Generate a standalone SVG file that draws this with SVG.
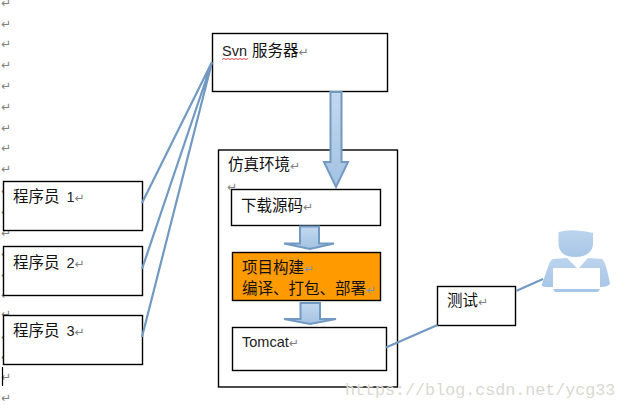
<svg xmlns="http://www.w3.org/2000/svg" width="626" height="409" viewBox="0 0 626 409">
<defs>
<linearGradient id="ag" x1="0" y1="0" x2="0" y2="1"><stop offset="0" stop-color="#c3d8ef"/><stop offset="1" stop-color="#a3c2e2"/></linearGradient>
<linearGradient id="pg" x1="0" y1="0" x2="0" y2="1"><stop offset="0" stop-color="#bcd4ee"/><stop offset="1" stop-color="#a8c6e6"/></linearGradient>
</defs>
<style>
.box{fill:#fff;stroke:#000;stroke-width:1.4}
.t{font-family:"Noto Sans CJK SC","Liberation Sans",sans-serif;font-size:15.5px;fill:#111}
.l{font-family:"Liberation Sans",sans-serif;font-size:14.5px;fill:#222}
.m{font-family:"DejaVu Sans",sans-serif;font-size:12px;fill:#808080}
.c{fill:none;stroke:#7299c2;stroke-width:2.2}
.a{fill:url(#ag);stroke:#7299c2;stroke-width:2}
.w{font-family:"Liberation Mono",monospace;font-size:16.7px;fill:#d9d9d2}
</style>
<g id="marks" class="m">
<text x="1" y="7">↵</text><text x="1" y="28">↵</text><text x="1" y="48">↵</text><text x="1" y="69">↵</text><text x="1" y="90">↵</text><text x="1" y="111">↵</text><text x="1" y="132">↵</text><text x="1" y="152">↵</text><text x="1" y="173">↵</text><text x="1" y="195">↵</text><text x="1" y="216">↵</text><text x="1" y="237">↵</text><text x="1" y="258">↵</text><text x="1" y="279">↵</text><text x="1" y="299">↵</text><text x="1" y="318">↵</text><text x="1" y="341">↵</text><text x="1" y="361">↵</text><text x="1" y="381">↵</text><text x="1" y="402">↵</text>
</g>
<path d="M2.500 367V386" stroke="#000" stroke-width="1.200"/>
<g id="sim"><rect class="box" x="218.500" y="150" width="179" height="237"/><text class="t" x="228" y="170">仿真环境<tspan class="m">↵</tspan></text><text class="m" x="227" y="191">↵</text></g>
<g id="p1"><rect class="box" x="3.500" y="181.500" width="139" height="49"/><text class="t" x="13" y="202">程序员<tspan class="l" dx="7">1</tspan><tspan class="m">↵</tspan></text></g>
<g id="p2"><rect class="box" x="3.500" y="246.500" width="139" height="49"/><text class="t" x="13" y="268">程序员<tspan class="l" dx="7">2</tspan><tspan class="m">↵</tspan></text></g>
<g id="p3"><rect class="box" x="3.500" y="315.500" width="139" height="49"/><text class="t" x="13" y="336">程序员<tspan class="l" dx="7">3</tspan><tspan class="m">↵</tspan></text></g>
<g id="svn"><rect class="box" x="212.500" y="33.500" width="175" height="58"/><text class="l" x="222" y="56">Svn <tspan class="t" dx="1">服务器</tspan><tspan class="m">↵</tspan></text><path d="M222 59.500l2-1 2 1 2-1 2 1 2-1 2 1 2-1 2 1 2-1 2 1 2-1 2 1 2-1" fill="none" stroke="#e02020" stroke-width=".8"/></g>
<g id="download"><rect class="box" x="231.500" y="189.500" width="149" height="36"/><text class="t" x="241" y="211">下载源码<tspan class="m">↵</tspan></text></g>
<g id="build"><rect x="232.500" y="252.500" width="148" height="48" fill="#ff9a00" stroke="#000" stroke-width="1.400"/><text class="t" x="242" y="273">项目构建<tspan class="m" style="fill:#7299c2">↵</tspan></text><text class="t" x="242" y="294">编译、打包、部署<tspan class="m" style="fill:#7299c2">↵</tspan></text></g>
<g id="tomcat"><rect class="box" x="232.500" y="327.500" width="154" height="43"/><text class="l" x="242" y="347">Tomcat<tspan class="m">↵</tspan></text></g>
<g id="test"><rect class="box" x="437.500" y="286.500" width="78" height="39"/><text class="t" x="447" y="306">测试<tspan class="m">↵</tspan></text></g>
<g id="user">
<path d="M558.500 232Q572 228 593 233V245Q591 257 575 257Q560 257 558.500 245Z" fill="url(#pg)"/>
<path d="M553 268V259L567 258L577 268H579L588 258L602 259Q606 262 610 284Q608 287 600 287V268ZM553 268V287H546Q541 287 542 284L548 267Q550 260 553 259Z" fill="url(#pg)"/>
<path d="M553 289H600L598 292H555Z" fill="#a8c6e6"/>
</g>
<g id="connectors">
<path class="c" d="M212 62L142 203M212 62L142 269M212 62L142 337M386 347.500L437.500 325M516 291L543 279"/>
<path class="a" d="M330.500 92H341.500V162H348L336 187L324 162H330.500Z"/>
<path class="a" d="M300 226.500H319V243.500H334L310 249L284 243.500H300Z" stroke-width="1.500"/>
<path class="a" d="M300.500 303H320V319H336L310 324L284 319H300.500Z" stroke-width="1.500"/>
</g>
<text class="w" x="345" y="395">https://blog.csdn.net/ycg33</text>
</svg>
